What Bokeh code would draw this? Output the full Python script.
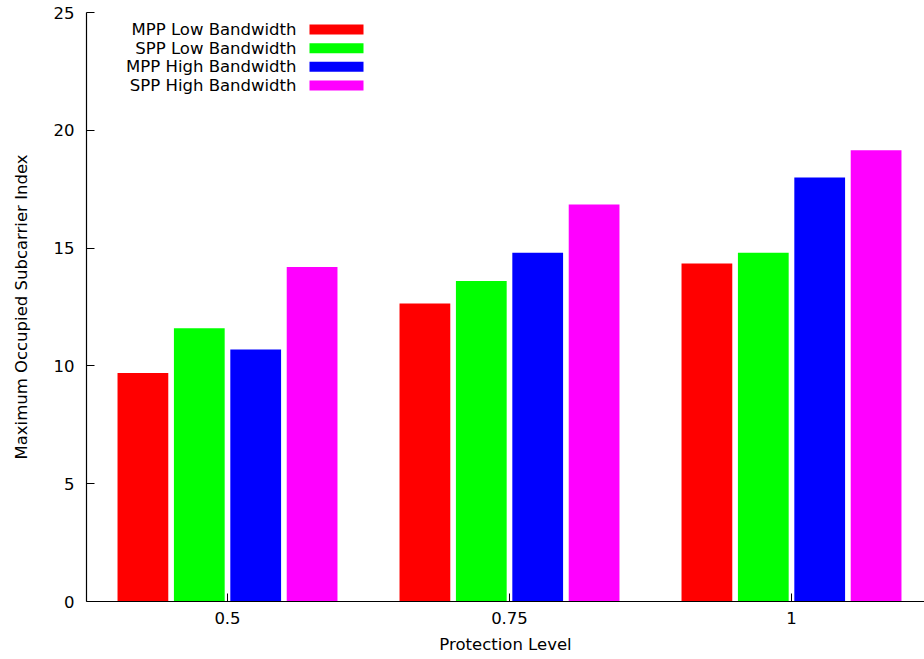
from bokeh.plotting import figure
from bokeh.models import Range1d, FixedTicker
from bokeh.core.properties import value
from bokeh.embed import file_html
from bokeh.resources import INLINE

# ---- data ----
levels = ["0.5", "0.75", "1"]
series = ["MPP Low Bandwidth", "SPP Low Bandwidth", "MPP High Bandwidth", "SPP High Bandwidth"]
mpp_low = [9.7, 12.65, 14.35]
spp_low = [11.6, 13.6, 14.8]
mpp_high = [10.7, 14.8, 18.0]
spp_high = [14.2, 16.85, 19.15]
colors = ["#ff0000", "#00ff00", "#0000ff", "#ff00ff"]
y_ticks = [0, 5, 10, 15, 20, 25]

# ---- layout ----
W, H = 924, 659
BL, BR, BT, BB = 86, 0, 12, 58
FW, FH = W - BL - BR, H - BT - BB
X0 = -0.5
PXU = 282.0                   # pixels per group
X1 = X0 + FW / PXU
Y1 = 25
PYU = FH / Y1
FONTNAME = "DejaVu Sans"
FONT = value(FONTNAME)
FS = "16.5px"

def fx(px):
    return X0 + px / PXU

def fy(py):
    return Y1 - py / PYU

p = figure(width=W, height=H, output_backend="svg", toolbar_location=None,
           x_range=Range1d(X0, X1), y_range=Range1d(0, Y1),
           min_border_left=BL, min_border_right=BR, min_border_top=BT, min_border_bottom=BB)
p.outline_line_color = None
p.grid.visible = False
p.background_fill_color = "white"
p.border_fill_color = "white"

offsets = [-0.3, -0.1, 0.1, 0.3]
allvals = [mpp_low, spp_low, mpp_high, spp_high]
for vals, off, col in zip(allvals, offsets, colors):
    xs = [i + off for i in range(len(levels))]
    p.vbar(x=xs, top=vals, bottom=0, width=0.18, fill_color=col, line_color=None)

# axes
for ax in (p.xaxis[0], p.yaxis[0]):
    ax.axis_line_color = "black"
    ax.axis_line_width = 1.2
    ax.major_tick_in = 8
    ax.major_tick_out = 0
    ax.minor_tick_line_color = None
    ax.major_tick_line_color = "black"
    ax.major_label_text_font = FONTNAME
    ax.major_label_text_font_size = FS
    ax.major_label_text_color = "black"
    ax.axis_label_text_font = FONTNAME
    ax.axis_label_text_font_size = FS
    ax.axis_label_text_font_style = "normal"
    ax.axis_label_text_color = "black"

p.xaxis.ticker = FixedTicker(ticks=list(range(len(levels))))
p.xaxis.major_label_overrides = {i: lab for i, lab in enumerate(levels)}
p.xaxis.axis_label = "Protection Level"
p.xaxis.major_label_standoff = 10
p.xaxis.axis_label_standoff = 8

p.yaxis.ticker = FixedTicker(ticks=y_ticks)
p.yaxis.axis_label = "Maximum Occupied Subcarrier Index"
p.yaxis.major_label_standoff = 12
p.yaxis.axis_label_standoff = 20

# legend (label left, swatch right)
row_py = [17, 35.7, 54.3, 73]
ly = [fy(r) for r in row_py]
p.text(x=[fx(210)] * len(series), y=ly, text=series, text_align="right",
       text_baseline="middle", text_font=FONT, text_font_size=FS, text_color="black")
half = 5 / PYU
p.quad(left=[fx(223)] * len(series), right=[fx(277)] * len(series),
       top=[v + half for v in ly], bottom=[v - half for v in ly],
       fill_color=colors, line_color=None)

open("out.html", "w").write(file_html(p, INLINE))
